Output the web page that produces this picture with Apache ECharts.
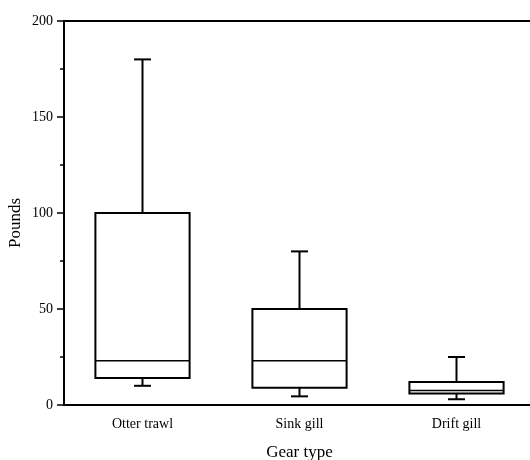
<!DOCTYPE html>
<html>
<head>
<meta charset="utf-8">
<script src="https://cdn.jsdelivr.net/npm/echarts@6/dist/echarts.min.js"></script>
<style>html,body{margin:0;padding:0;background:#fff;}#c{width:530px;height:460px;}</style>
</head>
<body>
<div id="c"></div>
<script>
var categories = ['Otter trawl', 'Sink gill', 'Drift gill'];
var lowWhisker = [10, 4.5, 3];
var q1 = [14, 9, 6];
var median = [23, 23, 7.5];
var q3 = [100, 50, 12];
var highWhisker = [180, 80, 25];
var yTicks = [0, 50, 100, 150, 200];

var data = categories.map(function (c, i) {
  return [i, lowWhisker[i], q1[i], median[i], q3[i], highWhisker[i]];
});

var font = 'Liberation Serif, Times New Roman, serif';
var chart = echarts.init(document.getElementById('c'));
chart.setOption({
  animation: false,
  backgroundColor: '#fff',
  grid: { left: 64, top: 21, width: 471, height: 384, containLabel: false, outerBoundsMode: 'none' },
  xAxis: [{
    type: 'category',
    data: categories,
    boundaryGap: true,
    axisLine: { lineStyle: { color: '#000', width: 2 } },
    axisTick: { alignWithLabel: true, length: 6, lineStyle: { color: '#000', width: 2 } },
    axisLabel: { color: '#000', fontFamily: font, fontSize: 14, margin: 12 },
    name: 'Gear type',
    nameLocation: 'middle',
    nameGap: 39,
    nameMoveOverlap: false,
    nameTextStyle: { color: '#000', fontFamily: font, fontSize: 17 },
    splitLine: { show: false }
  }, {
    type: 'category',
    position: 'top',
    data: categories,
    axisLine: { lineStyle: { color: '#000', width: 2 } },
    axisTick: { show: false },
    axisLabel: { show: false }
  }],
  yAxis: {
    type: 'value',
    min: 0, max: 200, interval: 50,
    axisLine: { show: true, lineStyle: { color: '#000', width: 2 } },
    axisTick: { show: true, length: 7, lineStyle: { color: '#000', width: 1.5 } },
    minorTick: { show: true, splitNumber: 2, length: 4, lineStyle: { color: '#000', width: 1.5 } },
    axisLabel: { color: '#000', fontFamily: font, fontSize: 14, margin: 11,
      formatter: function (v) { return yTicks.indexOf(v) >= 0 ? String(v) : ''; } },
    splitLine: { show: false },
    name: 'Pounds',
    nameLocation: 'middle',
    nameGap: 40,
    nameMoveOverlap: false,
    nameTextStyle: { color: '#000', fontFamily: font, fontSize: 17, padding: [0, 20, 0, 0] }
  },
  series: [{
    type: 'custom',
    data: data,
    renderItem: function (params, api) {
      var x = api.value(0);
      var band = api.size([1, 0])[0];
      var half = band * 0.3;
      var cap = 8.5;
      var pLow = api.coord([x, api.value(1)]);
      var pQ1 = api.coord([x, api.value(2)]);
      var pMed = api.coord([x, api.value(3)]);
      var pQ3 = api.coord([x, api.value(4)]);
      var pHigh = api.coord([x, api.value(5)]);
      var cx = pLow[0];
      var st = { stroke: '#000', lineWidth: 2, fill: null };
      return {
        type: 'group',
        children: [
          { type: 'line', shape: { x1: cx, y1: pQ3[1], x2: cx, y2: pHigh[1] }, style: st },
          { type: 'line', shape: { x1: cx - cap, y1: pHigh[1], x2: cx + cap, y2: pHigh[1] }, style: st },
          { type: 'line', shape: { x1: cx, y1: pQ1[1], x2: cx, y2: pLow[1] }, style: st },
          { type: 'line', shape: { x1: cx - cap, y1: pLow[1], x2: cx + cap, y2: pLow[1] }, style: st },
          { type: 'rect', shape: { x: cx - half, y: pQ3[1], width: half * 2, height: pQ1[1] - pQ3[1] },
            style: { stroke: '#000', lineWidth: 2, fill: '#fff' } },
          { type: 'line', shape: { x1: cx - half, y1: pMed[1], x2: cx + half, y2: pMed[1] },
            style: { stroke: '#000', lineWidth: 1.5 } }
        ]
      };
    }
  }]
});
</script>
</body>
</html>
